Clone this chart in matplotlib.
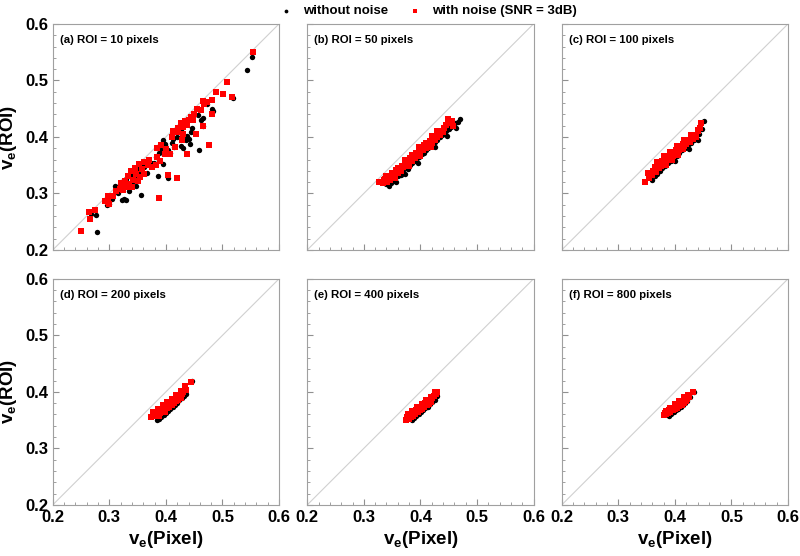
import matplotlib.pyplot as plt
from matplotlib.ticker import MultipleLocator
import numpy as np

plt.rcParams['font.family'] = ['Liberation Sans', 'DejaVu Sans']
plt.rcParams['font.weight'] = 'bold'
plt.rcParams['mathtext.fontset'] = 'custom'
plt.rcParams['mathtext.rm'] = 'Liberation Sans'
plt.rcParams['mathtext.bf'] = 'Liberation Sans:bold'

panel_titles = ["(a) ROI = 10 pixels", "(b) ROI = 50 pixels", "(c) ROI = 100 pixels",
                "(d) ROI = 200 pixels", "(e) ROI = 400 pixels", "(f) ROI = 800 pixels"]
series_labels = ["without noise", "with noise (SNR = 3dB)"]
ticks = [0.2, 0.3, 0.4, 0.5, 0.6]

# (pixel value, ROI value) pairs
a_clean = [(0.552, 0.542), (0.543, 0.518), (0.519, 0.469), (0.482, 0.450), (0.483, 0.446),
           (0.473, 0.459), (0.465, 0.434), (0.466, 0.420), (0.462, 0.430), (0.456, 0.438),
           (0.449, 0.441), (0.445, 0.408), (0.447, 0.416), (0.441, 0.396), (0.443, 0.387),
           (0.437, 0.402), (0.431, 0.405), (0.426, 0.412), (0.419, 0.415), (0.459, 0.376),
           (0.410, 0.390), (0.407, 0.372), (0.404, 0.377), (0.395, 0.371), (0.385, 0.380),
           (0.382, 0.364), (0.379, 0.353), (0.374, 0.354), (0.366, 0.336), (0.361, 0.346),
           (0.355, 0.333), (0.356, 0.298), (0.348, 0.313), (0.345, 0.325), (0.339, 0.330),
           (0.330, 0.325), (0.324, 0.319), (0.323, 0.289), (0.329, 0.288), (0.326, 0.290),
           (0.305, 0.290), (0.300, 0.282), (0.295, 0.280), (0.277, 0.261), (0.267, 0.263),
           (0.278, 0.231), (0.404, 0.327), (0.386, 0.331), (0.394, 0.395), (0.399, 0.388),
           (0.412, 0.396), (0.420, 0.400), (0.430, 0.380), (0.415, 0.382), (0.370, 0.357),
           (0.360, 0.350), (0.350, 0.340), (0.340, 0.320), (0.335, 0.305), (0.315, 0.300),
           (0.310, 0.314), (0.388, 0.372), (0.392, 0.376), (0.398, 0.385), (0.427, 0.384),
           (0.436, 0.394), (0.395, 0.352), (0.343, 0.337), (0.352, 0.346), (0.320, 0.321)]
a_noisy = [(0.554, 0.550), (0.508, 0.498), (0.501, 0.476), (0.517, 0.471), (0.488, 0.479),
           (0.481, 0.465), (0.466, 0.464), (0.455, 0.450), (0.481, 0.441), (0.477, 0.386),
           (0.465, 0.419), (0.454, 0.406), (0.448, 0.430), (0.440, 0.430), (0.437, 0.421),
           (0.431, 0.406), (0.429, 0.394), (0.437, 0.370), (0.416, 0.382), (0.407, 0.370),
           (0.401, 0.378), (0.398, 0.370), (0.390, 0.358), (0.383, 0.350), (0.375, 0.347),
           (0.368, 0.350), (0.362, 0.335), (0.354, 0.329), (0.348, 0.335), (0.342, 0.323),
           (0.335, 0.317), (0.330, 0.311), (0.324, 0.306), (0.318, 0.308), (0.311, 0.305),
           (0.307, 0.296), (0.297, 0.295), (0.297, 0.284), (0.300, 0.281), (0.292, 0.287),
           (0.264, 0.267), (0.266, 0.254), (0.274, 0.270), (0.249, 0.234), (0.387, 0.292),
           (0.403, 0.332), (0.419, 0.328), (0.384, 0.364), (0.400, 0.379), (0.410, 0.400),
           (0.419, 0.409), (0.431, 0.418), (0.338, 0.340), (0.345, 0.345), (0.352, 0.352),
           (0.357, 0.343), (0.362, 0.355), (0.370, 0.360), (0.333, 0.330), (0.327, 0.322),
           (0.321, 0.318), (0.340, 0.311), (0.350, 0.322), (0.385, 0.380), (0.392, 0.385),
           (0.413, 0.410), (0.421, 0.415), (0.426, 0.425), (0.434, 0.428), (0.444, 0.436),
           (0.450, 0.440), (0.462, 0.447), (0.468, 0.458), (0.473, 0.462)]

b_clean = [(0.340, 0.316), (0.344, 0.314), (0.348, 0.318), (0.352, 0.322), (0.356, 0.320),
           (0.360, 0.330), (0.365, 0.333), (0.370, 0.338), (0.374, 0.345), (0.378, 0.343),
           (0.382, 0.350), (0.386, 0.354), (0.390, 0.357), (0.394, 0.362), (0.398, 0.365),
           (0.402, 0.369), (0.406, 0.372), (0.410, 0.376), (0.414, 0.380), (0.418, 0.384),
           (0.422, 0.388), (0.426, 0.391), (0.430, 0.395), (0.434, 0.399), (0.438, 0.403),
           (0.442, 0.406), (0.446, 0.410), (0.450, 0.414), (0.454, 0.418), (0.458, 0.421),
           (0.462, 0.424), (0.466, 0.427), (0.470, 0.431), (0.463, 0.416), (0.447, 0.402),
           (0.425, 0.382), (0.395, 0.354), (0.372, 0.334)]
b_noisy = [(0.327, 0.321), (0.334, 0.318), (0.338, 0.326), (0.341, 0.320), (0.345, 0.331),
           (0.347, 0.323), (0.350, 0.336), (0.352, 0.328), (0.355, 0.333), (0.357, 0.341),
           (0.360, 0.337), (0.362, 0.345), (0.365, 0.340), (0.367, 0.349), (0.370, 0.346),
           (0.372, 0.355), (0.375, 0.351), (0.377, 0.359), (0.380, 0.355), (0.382, 0.362),
           (0.385, 0.358), (0.387, 0.367), (0.390, 0.363), (0.392, 0.371), (0.395, 0.368),
           (0.397, 0.376), (0.400, 0.372), (0.402, 0.380), (0.405, 0.377), (0.407, 0.385),
           (0.410, 0.381), (0.412, 0.389), (0.415, 0.386), (0.417, 0.393), (0.420, 0.390),
           (0.422, 0.398), (0.425, 0.394), (0.427, 0.402), (0.430, 0.399), (0.432, 0.407),
           (0.435, 0.403), (0.437, 0.411), (0.440, 0.408), (0.442, 0.416), (0.445, 0.421),
           (0.448, 0.432), (0.452, 0.425), (0.456, 0.428), (0.458, 0.420), (0.355, 0.327),
           (0.380, 0.349), (0.400, 0.366), (0.418, 0.383), (0.340, 0.330), (0.360, 0.345),
           (0.385, 0.368), (0.410, 0.390), (0.430, 0.410), (0.450, 0.428), (0.335, 0.323),
           (0.372, 0.360), (0.398, 0.382), (0.420, 0.402)]

c_clean = [(0.359, 0.323), (0.364, 0.330), (0.368, 0.335), (0.373, 0.340), (0.378, 0.345),
           (0.383, 0.348), (0.388, 0.353), (0.393, 0.357), (0.398, 0.362), (0.403, 0.366),
           (0.408, 0.371), (0.413, 0.376), (0.418, 0.380), (0.423, 0.385), (0.428, 0.390),
           (0.433, 0.395), (0.438, 0.400), (0.443, 0.406), (0.448, 0.414), (0.452, 0.428),
           (0.440, 0.394), (0.425, 0.378), (0.400, 0.358)]
c_noisy = [(0.347, 0.320), (0.355, 0.328), (0.358, 0.336), (0.362, 0.340), (0.365, 0.346),
           (0.366, 0.338), (0.370, 0.350), (0.372, 0.345), (0.374, 0.353), (0.376, 0.348),
           (0.378, 0.357), (0.380, 0.352), (0.382, 0.360), (0.384, 0.356), (0.386, 0.364),
           (0.388, 0.359), (0.390, 0.367), (0.392, 0.362), (0.394, 0.370), (0.396, 0.366),
           (0.398, 0.374), (0.400, 0.369), (0.402, 0.377), (0.404, 0.373), (0.406, 0.381),
           (0.408, 0.376), (0.410, 0.384), (0.412, 0.380), (0.414, 0.388), (0.416, 0.384),
           (0.418, 0.391), (0.420, 0.387), (0.423, 0.395), (0.426, 0.391), (0.429, 0.399),
           (0.432, 0.396), (0.435, 0.404), (0.438, 0.400), (0.441, 0.410), (0.444, 0.415),
           (0.447, 0.425), (0.385, 0.350), (0.395, 0.360), (0.405, 0.368), (0.415, 0.378),
           (0.360, 0.333), (0.368, 0.356), (0.380, 0.366), (0.392, 0.374), (0.404, 0.384),
           (0.416, 0.394), (0.428, 0.404), (0.352, 0.337), (0.440, 0.412)]

d_clean = [(0.385, 0.350), (0.388, 0.352), (0.392, 0.355), (0.396, 0.359), (0.400, 0.362),
           (0.404, 0.366), (0.408, 0.370), (0.412, 0.373), (0.416, 0.377), (0.420, 0.381),
           (0.424, 0.385), (0.428, 0.389), (0.432, 0.393), (0.436, 0.397), (0.447, 0.420)]
d_noisy = [(0.374, 0.356), (0.378, 0.358), (0.380, 0.362), (0.382, 0.357), (0.384, 0.364),
           (0.386, 0.360), (0.388, 0.366), (0.390, 0.362), (0.392, 0.369), (0.394, 0.365),
           (0.396, 0.372), (0.398, 0.368), (0.400, 0.375), (0.402, 0.371), (0.404, 0.378),
           (0.406, 0.374), (0.408, 0.381), (0.410, 0.377), (0.412, 0.384), (0.414, 0.380),
           (0.416, 0.387), (0.418, 0.383), (0.420, 0.390), (0.422, 0.386), (0.424, 0.393),
           (0.426, 0.389), (0.428, 0.396), (0.431, 0.400), (0.433, 0.406), (0.436, 0.403),
           (0.445, 0.418), (0.388, 0.358), (0.398, 0.364), (0.378, 0.364), (0.386, 0.370),
           (0.394, 0.376), (0.402, 0.382), (0.410, 0.388), (0.418, 0.394), (0.426, 0.402),
           (0.434, 0.410)]

e_clean = [(0.385, 0.350), (0.389, 0.353), (0.393, 0.357), (0.397, 0.360), (0.401, 0.364),
           (0.405, 0.367), (0.409, 0.371), (0.413, 0.374), (0.417, 0.378), (0.421, 0.382),
           (0.425, 0.386), (0.429, 0.392)]
e_noisy = [(0.374, 0.350), (0.376, 0.355), (0.379, 0.352), (0.381, 0.358), (0.383, 0.355),
           (0.385, 0.361), (0.387, 0.358), (0.389, 0.364), (0.391, 0.361), (0.393, 0.368),
           (0.395, 0.364), (0.397, 0.371), (0.399, 0.367), (0.401, 0.374), (0.403, 0.370),
           (0.405, 0.377), (0.407, 0.373), (0.409, 0.380), (0.411, 0.376), (0.413, 0.383),
           (0.415, 0.379), (0.417, 0.386), (0.419, 0.382), (0.421, 0.389), (0.424, 0.392),
           (0.427, 0.396), (0.430, 0.399), (0.425, 0.399), (0.378, 0.360), (0.386, 0.366),
           (0.394, 0.373), (0.402, 0.379), (0.410, 0.385), (0.418, 0.391)]

f_clean = [(0.390, 0.358), (0.394, 0.361), (0.398, 0.364), (0.402, 0.367), (0.406, 0.370),
           (0.410, 0.373), (0.414, 0.376), (0.418, 0.380), (0.422, 0.384), (0.426, 0.390),
           (0.434, 0.400)]
f_noisy = [(0.380, 0.359), (0.382, 0.362), (0.384, 0.360), (0.386, 0.364), (0.388, 0.362),
           (0.390, 0.367), (0.392, 0.364), (0.394, 0.369), (0.396, 0.367), (0.398, 0.372),
           (0.400, 0.369), (0.402, 0.375), (0.404, 0.372), (0.406, 0.377), (0.408, 0.375),
           (0.410, 0.380), (0.412, 0.377), (0.414, 0.382), (0.416, 0.380), (0.418, 0.385),
           (0.420, 0.383), (0.422, 0.388), (0.425, 0.390), (0.432, 0.400), (0.384, 0.366),
           (0.392, 0.372), (0.400, 0.378), (0.408, 0.384), (0.416, 0.390), (0.424, 0.395)]

clean_sets = [a_clean, b_clean, c_clean, d_clean, e_clean, f_clean]
noisy_sets = [a_noisy, b_noisy, c_noisy, d_noisy, e_noisy, f_noisy]

fig, axes = plt.subplots(2, 3, figsize=(8, 5.56), dpi=100)
fig.subplots_adjust(left=0.066, right=0.985, top=0.957, bottom=0.092,
                    wspace=0.125, hspace=0.128)

for i, ax in enumerate(axes.flat):
    clean = np.array(clean_sets[i])
    noisy = np.array(noisy_sets[i])
    ax.plot([0.2, 0.6], [0.2, 0.6], color="#d0d0d0", lw=0.8, zorder=1)
    ax.scatter(clean[:, 0], clean[:, 1], s=15, marker="o", color="black",
               linewidths=0, zorder=2, label=series_labels[0])
    ax.scatter(noisy[:, 0], noisy[:, 1], s=14, marker="s", color="#ff0000",
               linewidths=0, zorder=3, label=series_labels[1])
    ax.set_xlim(0.2, 0.6)
    ax.set_ylim(0.2, 0.6)
    ax.set_xticks(ticks)
    ax.set_yticks(ticks)
    ax.xaxis.set_minor_locator(MultipleLocator(0.02))
    ax.yaxis.set_minor_locator(MultipleLocator(0.02))
    ax.tick_params(which="both", direction="in", color="#909090", labelsize=12)
    ax.tick_params(which="major", length=4, width=0.8)
    ax.tick_params(which="minor", length=2, width=0.6)
    for sp in ax.spines.values():
        sp.set_color("#a0a0a0")
        sp.set_linewidth(0.8)
    ax.text(0.03, 0.95, panel_titles[i], transform=ax.transAxes, fontsize=8.2,
            fontweight="bold", va="top", ha="left")
    row, col = divmod(i, 3)
    if row == 0:
        ax.tick_params(labelbottom=False)
    else:
        ax.set_xlabel(r"$\mathbf{v_e}$(Pixel)", fontsize=13.5, fontweight="bold", labelpad=3)
    if col > 0:
        ax.tick_params(labelleft=False)
    else:
        ax.set_ylabel(r"$\mathbf{v_e}$(ROI)", fontsize=13.5, fontweight="bold", labelpad=4)

handles, labels = axes[0, 0].get_legend_handles_labels()
fig.legend(handles, labels, loc="upper center", bbox_to_anchor=(0.535, 1.012), ncol=2,
           frameon=False, prop={"weight": "bold", "size": 9.5}, markerscale=0.7,
           handletextpad=0.8, columnspacing=1.5, handlelength=1.0)

fig.savefig("out.png", dpi=100)
